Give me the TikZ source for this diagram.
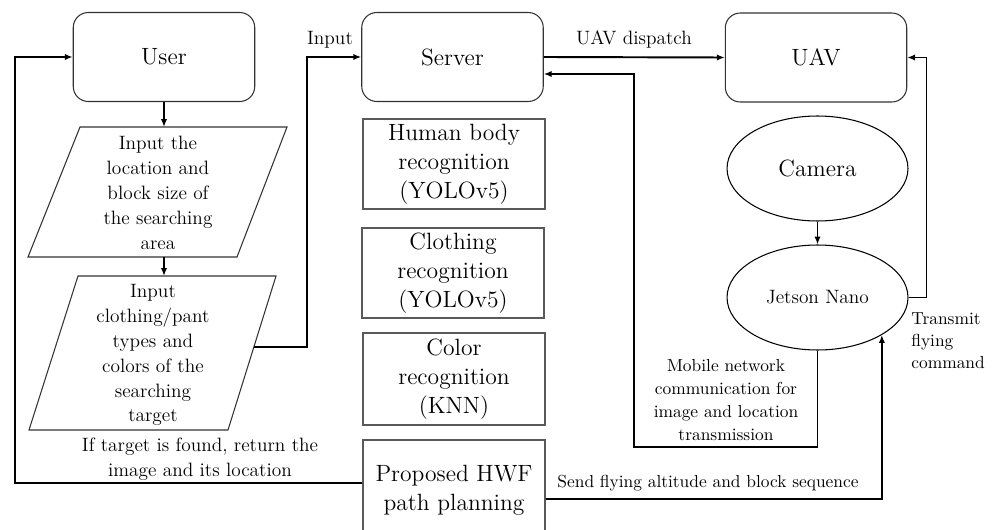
\documentclass[tikz,border=0pt]{standalone}
\usetikzlibrary{shapes.geometric,arrows.meta}
\begin{document}
\begin{tikzpicture}[x=0.02cm,y=-0.02cm,
 conn/.style={line width=1.1pt,black},
 arr/.style={conn,-{Latex[length=4.5pt,width=3.6pt]}},
 bigf/.style={font=\fontsize{13.4}{16.5}\selectfont},
 rbox/.style={bigf,draw=black!80,line width=0.6pt,rounded corners=0.3cm,minimum width=3.63cm,minimum height=1.78cm,inner sep=0pt},
 gbox/.style={bigf,draw=black!65,line width=0.6pt,minimum width=3.64cm,minimum height=1.8cm,inner sep=0pt,align=center},
 ell/.style={draw=black,line width=0.6pt,ellipse,minimum width=3.62cm,minimum height=2.1cm,inner sep=0pt},
 para/.style={draw=black!80,line width=0.6pt},
 ptext/.style={align=center,inner sep=0pt,font=\fontsize{11}{14.2}\selectfont},
 lbl/.style={align=center,inner sep=0pt,font=\fontsize{11}{14.2}\selectfont},
 slbl/.style={align=center,inner sep=0pt,font=\fontsize{9.9}{13}\selectfont}
]
\useasboundingbox (0,0) rectangle (996,530);
\clip (0,0) rectangle (996,530);

% top row
\node[rbox] (user) at (164,57) {User};
\node[rbox] (server) at (452.5,57) {Server};
\node[rbox] (uav) at (816,57.5) {UAV};

% parallelograms
\draw[para] (80,127) -- (287,127) -- (237,257) -- (28,257) -- cycle;
\draw[para] (78,276) -- (276,276) -- (228,430) -- (29,430) -- cycle;
\node[ptext] (p1) at (158,193) {Input the\\location and\\block size of\\the searching\\area};
\node[ptext] (p2) at (153,355) {Input\\clothing/pant\\types and\\colors of the\\searching\\target};
\coordinate (p1t) at (164,127);
\coordinate (p1b) at (164,257);
\coordinate (p2t) at (164,276);
\coordinate (p2r) at (254,347);

% middle boxes
\node[gbox] (hb) at (454,164) {Human body\\recognition\\(YOLOv5)};
\node[gbox] (cl) at (453,273) {Clothing\\recognition\\(YOLOv5)};
\node[gbox,minimum height=1.84cm] (co) at (454,379) {Color\\recognition\\(KNN)};
\node[gbox,minimum height=2cm] (hwf) at (454,490) {Proposed HWF\\path planning};

% ellipses
\node[ell,bigf] (cam) at (817.5,168.5) {Camera};
\node[ell,font=\fontsize{11}{14}\selectfont] (jet) at (817.5,297.5) {Jetson Nano};

% connectors
\coordinate (lb) at (15,483);
\draw[arr] (hwf.west |- lb) -- (lb) |- (user.west);
\draw[arr] (user.south) -- (p1t);
\draw[arr] (p1b) -- (p2t);
\coordinate (ib) at (307,347);
\draw[arr] (p2r) -- (ib) |- (server.west);
\node[lbl] at (330,40) {Input};

\draw[arr] (server.east) -- (uav.west);
\node[lbl] at (634,39) {UAV dispatch};

\coordinate (mb) at (634,447);
\draw[arr] (jet.south) |- (mb) |- ([yshift=-0.34cm]server.east);
\node[slbl] at (726,400) {Mobile network\\communication for\\image and location\\transmission};

\draw[arr] (jet.east) -- ++(18,0) |- (uav.east);
\node[slbl,anchor=west,align=left,font=\fontsize{9.9}{12.5}\selectfont] at (911,341) {Transmit\\flying\\command};

\draw[arr] (cam.south) -- (jet.north);

\draw[arr] ([yshift=-0.18cm]hwf.east) -| (jet.south east);
\node[slbl] at (708,483) {Send flying altitude and block sequence};

\node[lbl,font=\fontsize{11}{14.5}\selectfont] at (200,459) {If target is found, return the\\image and its location};
\end{tikzpicture}
\end{document}
